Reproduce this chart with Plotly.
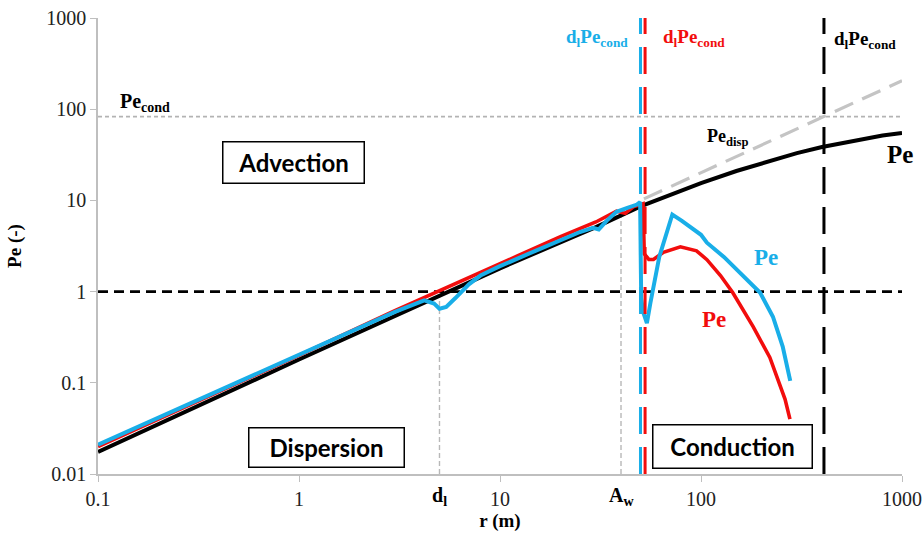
import math
import plotly.graph_objects as go

# ---- data ----
black_r = [0.1, 1, 10, 20, 30, 50, 70, 100, 150, 200, 300, 400, 600, 800, 1000]
black_pe = [0.0175, 0.18, 1.8, 3.5, 5.1, 8.6, 11.5, 15.5, 21, 25.5, 33, 38.5, 46, 51.5, 55]

blue_r = [0.1, 1, 3, 4.2, 4.7, 5.0, 5.4, 6, 7, 8, 10, 15, 20, 25, 29, 31, 34, 38, 43, 48, 49.8,
          50.4, 51.5, 53.8, 56, 62, 72, 80, 100, 107, 130, 156, 197, 228, 255, 278]
blue_pe = [0.021, 0.2, 0.6, 0.8, 0.74, 0.65, 0.68, 0.85, 1.2, 1.5, 1.9, 2.8, 3.7, 4.5, 5.0, 4.8, 6.0,
           7.5, 8.3, 9.0, 9.6, 0.85, 0.6, 0.45, 0.75, 2.4, 7.0, 6.0, 4.2, 3.44, 2.4, 1.61, 0.97, 0.53, 0.25, 0.105]

red_r = [0.1, 1, 3, 5, 7, 10, 20, 30, 38, 42, 46, 51.5, 52.2, 55, 58, 65, 79, 95, 107, 125, 144, 182, 220, 262, 277]
red_pe = [0.02, 0.2, 0.62, 1.02, 1.45, 2.05, 4.0, 5.8, 7.6, 7.2, 8.5, 9.2, 2.6, 2.25, 2.25, 2.7, 3.1, 2.8,
          2.24, 1.5, 0.97, 0.41, 0.19, 0.066, 0.04]

disp_r = [52, 1000]
disp_pe = [10.4, 205]

pe_cond = 83
pe_one = 1
r_dl = 5
r_aw = 40
r_blue_cond = 50
r_red_cond = 52.7
r_black_cond = 409

x_ticks = [0.1, 1, 10, 100, 1000]
x_ticktext = ["0.1", "1", "10", "100", "1000"]
y_ticks = [0.01, 0.1, 1, 10, 100, 1000]
y_ticktext = ["0.01", "0.1", "1", "10", "100", "1000"]

BLUE = "#19aee8"
RED = "#f20d0d"
SERIF = "Liberation Serif, Times New Roman, serif"
SANS = "Lato, Open Sans, sans-serif"

fig = go.Figure()

def line(x, y, color, width, dash="solid"):
    fig.add_trace(go.Scatter(x=x, y=y, mode="lines", hoverinfo="skip",
                             line=dict(color=color, width=width, dash=dash)))

# reference lines
line([0.1, 1000], [pe_cond, pe_cond], "#b3b3b3", 1.6, "4px,3px")
line([r_dl, r_dl], [0.01, 0.9], "#b8b8b8", 1.4, "5px,3px")
line([r_aw, r_aw], [0.01, 8.0], "#b8b8b8", 1.4, "5px,3px")
line([0.1, 1000], [pe_one, pe_one], "black", 2.6, "10px,6px")
line(disp_r, disp_pe, "#c4c4c4", 3.2, "20px,10px")

# curves
line(black_r, black_pe, "black", 4)
line(red_r, red_pe, RED, 3.6)
line(blue_r, blue_pe, BLUE, 4)

# vertical condition lines
line([r_blue_cond, r_blue_cond], [0.01, 1000], BLUE, 3, "27px,13px")
line([r_red_cond, r_red_cond], [0.01, 1000], RED, 3, "27px,13px")
line([r_black_cond, r_black_cond], [0.01, 1000], "black", 3, "27px,13px")

L = math.log10
ann = []

def text(x, y, t, color="black", size=19, xanchor="left", family=SERIF):
    ann.append(dict(x=x, y=y, xref="x", yref="y", text=t, showarrow=False,
                    xanchor=xanchor, yanchor="middle",
                    font=dict(family=family, size=size, color=color)))

text(-0.9, 2.07, "<b>Pe<sub>cond</sub></b>", size=20)
text(1.647, 2.785, "<b>d<sub>l</sub>Pe<sub>cond</sub></b>", BLUE, xanchor="right")
text(1.80, 2.785, "<b>d<sub>l</sub>Pe<sub>cond</sub></b>", RED)
text(2.652, 2.76, "<b>d<sub>l</sub>Pe<sub>cond</sub></b>")
text(2.02, 1.69, "<b>Pe<sub>disp</sub></b>", size=18)
text(2.915, 1.50, "<b>Pe</b>", size=25)
text(2.254, 0.373, "<b>Pe</b>", BLUE, size=23)
text(1.995, -0.307, "<b>Pe</b>", RED, size=23)

def box(x, y, t, w, h):
    ann.append(dict(x=x, y=y, xref="x", yref="y", text="<b>" + t + "</b>", showarrow=False,
                    xanchor="center", yanchor="middle", width=w, height=h,
                    bordercolor="black", borderwidth=1.5, borderpad=0, bgcolor="white",
                    font=dict(family=SANS, size=24, color="black")))

box(-0.025, 1.414, "Advection", 140, 40)
box(0.139, -1.71, "Dispersion", 154, 38)
box(2.159, -1.70, "Conduction", 158, 42)

for xv, t in [(L(r_dl), "<b>d<sub>l</sub></b>"), (L(r_aw), "<b>A<sub>w</sub></b>")]:
    ann.append(dict(x=xv, y=0, xref="x", yref="paper", text=t, showarrow=False,
                    xanchor="center", yanchor="top", yshift=-8,
                    font=dict(family=SERIF, size=20, color="black")))

fig.update_layout(
    width=922, height=534,
    margin=dict(l=98, r=20, t=18, b=60),
    paper_bgcolor="white", plot_bgcolor="white",
    showlegend=False,
    annotations=ann,
    font=dict(family=SERIF, size=20, color="black"),
)
axis_common = dict(type="log", showgrid=False, zeroline=False, showline=True,
                   linecolor="#bfbfbf", linewidth=1.5, ticks="outside", ticklen=6,
                   tickcolor="#bfbfbf", tickwidth=1.2, automargin=False,
                   tickfont=dict(family=SERIF, size=20, color="#222"))
fig.update_xaxes(range=[-1, 3], tickvals=x_ticks, ticktext=x_ticktext,
                 title=dict(text="<b>r (m)</b>", font=dict(family=SERIF, size=19), standoff=0),
                 **axis_common)
fig.update_yaxes(range=[-2, 3], tickvals=y_ticks, ticktext=y_ticktext,
                 title=dict(text="<b>Pe (-)</b>", font=dict(family=SERIF, size=19), standoff=20),
                 **axis_common)

fig.write_html("out.html")
